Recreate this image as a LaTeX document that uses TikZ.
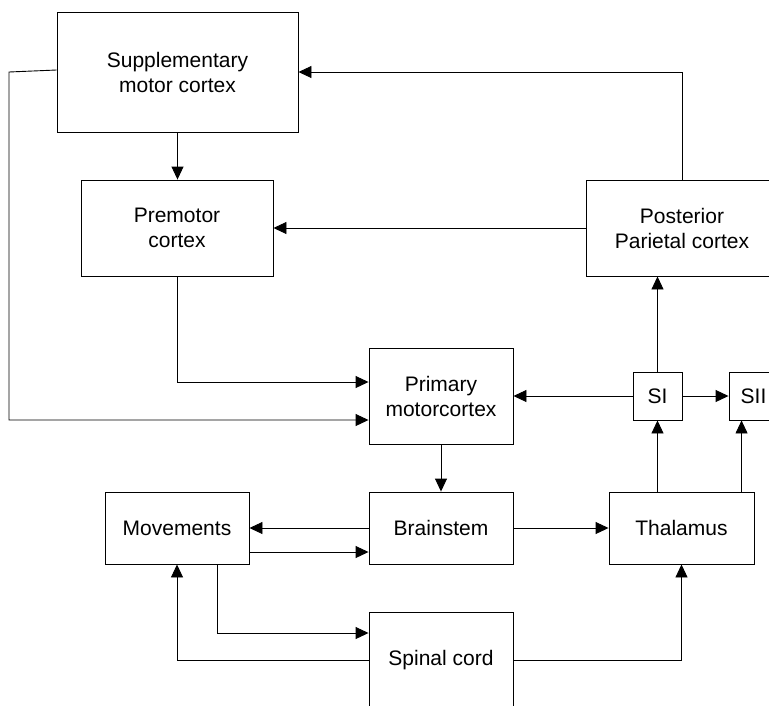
\documentclass[tikz,border=0pt]{standalone}
\usepackage{fontspec}
\setmainfont{Liberation Sans}
\usepackage{tikz}
\usetikzlibrary{arrows.meta,positioning,calc}

\begin{document}
\begin{tikzpicture}[x=1pt,y=-1pt,line width=0.9pt,
  font=\fontsize{21}{25}\selectfont,
  box/.style={draw,align=center,inner sep=0pt},
  tip/.style={-{Triangle[length=13pt,width=12pt]}}]
  \useasboundingbox (0,0) rectangle (769,705);
  % boxes
  \node[box,minimum width=241pt,minimum height=120pt] (smc) at (177.5,72) {Supplementary\\motor cortex};
  \node[box,minimum width=192pt,minimum height=96pt] (pmc) at (177,228) {Premotor\\cortex};
  \node[box,minimum width=192pt,minimum height=96pt] (ppc) at (682,228) {Posterior\\Parietal cortex};
  \node[box,minimum width=144pt,minimum height=96pt] (m1) at (441,396) {Primary\\motorcortex};
  \node[box,minimum width=49pt,minimum height=48pt] (si) at (657.5,396) {SI};
  \node[box,minimum width=49pt,minimum height=48pt] (sii) at (753.5,396) {SII};
  \node[box,minimum width=144pt,minimum height=72pt] (mv) at (177,528) {Movements};
  \node[box,minimum width=144pt,minimum height=72pt] (bs) at (441,528) {Brainstem};
  \node[box,minimum width=145pt,minimum height=72pt] (th) at (681.5,528) {Thalamus};
  \node[box,minimum width=144pt,minimum height=96pt] (sc) at (441,660) {Spinal cord};
  \coordinate (bend) at (9,72);
  \coordinate (siiin) at ([xshift=13pt]sii.south west);
  \coordinate (mvout) at ([xshift=40pt]mv.south);
  % connectors
  \draw[tip] (smc.south) -- (smc.south |- pmc.north);
  \draw[tip] (ppc.north) |- (smc.east);
  \draw[tip] (ppc.west) -- (pmc.east);
  \draw[tip] (pmc.south) |- ($(m1.west)+(0,-14)$);
  \draw[tip] ([yshift=2pt]smc.west) -- (bend) |- ($(m1.west)+(0,24)$);
  \draw[tip] (si.west) -- (m1.east);
  \draw[tip] (si.north) -- (si.north |- ppc.south);
  \draw[tip] (si.east) -- (si.east -| sii.west);
  \draw[tip] (m1.south) -- (bs.north);
  \draw[tip] (bs.west) -- (mv.east);
  \draw[tip] ($(mv.east)+(0,24)$) -- ($(bs.west)+(0,24)$);
  \draw[tip] (bs.east) -- (th.west);
  \draw[tip] (si.south |- th.north) -- (si.south);
  \draw[tip] (siiin |- th.north) -- (siiin);
  \draw[tip] (mvout) |- ($(sc.west)+(0,-27)$);
  \draw[tip] (sc.west) -| (mv.south);
  \draw[tip] (sc.east) -| (th.south);
\end{tikzpicture}
\end{document}
